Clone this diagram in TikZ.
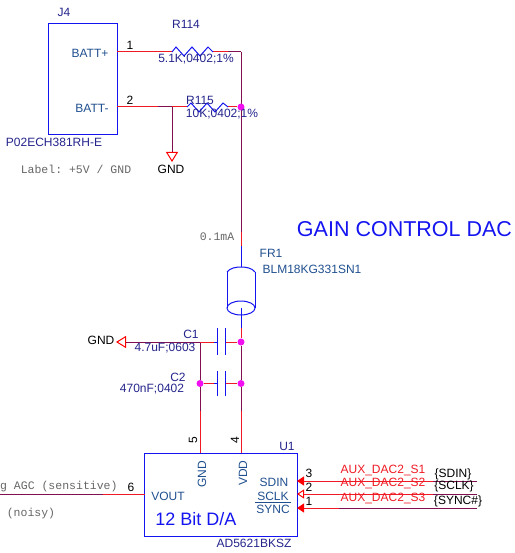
\documentclass[tikz,border=0pt]{standalone}
\usepackage{fontspec}
\setmainfont{Liberation Sans}
\setmonofont{Liberation Mono}
\usepackage{xcolor}
\usetikzlibrary{arrows.meta}
\definecolor{wirered}{HTML}{F01A24}
\definecolor{netmaroon}{HTML}{80104F}
\definecolor{partblue}{HTML}{1414F0}
\definecolor{refnavy}{HTML}{24248C}
\definecolor{pinblue}{HTML}{1F4F8F}
\definecolor{junction}{HTML}{F010F0}
\tikzset{
    wire/.style={wirered, line width=1pt},
    netwire/.style={netmaroon, line width=1pt},
    partline/.style={partblue, line width=1pt},
    txt/.style={inner sep=0pt, font=\fontsize{12}{12}\selectfont},
    reflabel/.style={txt, text=refnavy},
    pinlabel/.style={txt, text=pinblue},
    pinnum/.style={txt, text=black},
    netlabel/.style={txt, text=wirered},
    note/.style={inner sep=0pt, text=black!60, font=\ttfamily\fontsize{11.5}{11.5}\selectfont},
    dot/.style={circle, fill=junction, inner sep=0pt, minimum size=7pt},
    gndtip/.style={-{Triangle[open, red, length=10pt, width=12pt]}},
    intip/.style={-{Triangle[red, length=7pt, width=9pt]}},
    clktip/.style={-{Triangle[open, red, length=7pt, width=9pt]}}
}

\begin{document}
\begin{tikzpicture}[x=1pt, y=-1pt]
    \useasboundingbox (0, 0) rectangle (514, 553);

    % connector J4
    \node[draw=partblue, line width=1pt, minimum width=69pt, minimum height=111pt, inner sep=0pt] (j4) at (82.5, 79.5) {};
    \node[reflabel] (j4ref) at (64, 12) {J4};
    \node[reflabel] (j4val) at (54, 142) {P02ECH381RH-E};
    \node[pinlabel] (battp) at (90, 53) {BATT+};
    \node[pinlabel] (battn) at (92, 108) {BATT-};
    \node[pinnum] (pin1) at (130, 45) {1};
    \node[pinnum] (pin2) at (130, 100) {2};
    \node[note] (battnote) at (76, 169) {Label: +5V / GND};

    % battery nets
    \coordinate (p1) at (117, 52);
    \coordinate (p2) at (158, 52);
    \coordinate (r114a) at (172, 52);
    \coordinate (r114b) at (213, 52);
    \coordinate (p3) at (228, 52);
    \coordinate (rail0) at (241, 52);
    \coordinate (rail1) at (241, 232);
    \coordinate (n1) at (117, 107);
    \coordinate (n2) at (158, 107);
    \coordinate (gndj) at (172, 107);
    \coordinate (r115a) at (187, 107);
    \coordinate (r115b) at (228, 107);
    \coordinate (gndtop) at (172, 162);
    \draw[netwire] (rail0) -- (rail1);
    \node[dot] (d1) at (241, 107) {};

    \draw[wire] (p1) -- (p2);
    \draw[wire] (p2) -- (r114a);
    \draw[wire] (r114b) -- (p3);
    \draw[netwire] (p3) -- (rail0);
    \draw[wire] (n1) -- (n2);
    \draw[netwire] (n2) -- (gndj);
    \draw[wire] (gndj) -- (r115a);
    \draw[wire] (r115b) -- (d1);
    \draw[netwire, gndtip] (gndj) -- (gndtop);

    % R114, R115
    \draw[partline] (r114a) -- (176, 47) -- (184, 56) -- (192, 47) -- (200, 56) -- (208, 47) -- (r114b);
    \draw[partline] (r115a) -- (191, 103) -- (199, 112) -- (207, 103) -- (215, 112) -- (223, 103) -- (r115b);
    \node[reflabel] (r114ref) at (186, 24) {R114};
    \node[reflabel] (r114val) at (196, 59) {5.1K;0402;1\%};
    \node[reflabel] (r115ref) at (200, 100) {R115};
    \node[reflabel] (r115val) at (222, 114) {10K;0402;1\%};
    \node[pinnum] (gndtxt1) at (171, 169) {GND};

    % rail into FR1
    \coordinate (fr1top) at (241, 246);
    \coordinate (fr1in) at (241, 267);
    \coordinate (fr1mid) at (241, 308);
    \coordinate (fr1out) at (241, 328);
    \draw[wire] (rail1) -- (fr1top);
    \draw[partline] (fr1top) -- (fr1in);
    \draw[partline] (227, 272) .. controls (230, 268) and (236, 267) .. (fr1in) .. controls (246, 267) and (252, 268) .. (255, 272);
    \draw[partline] (227, 272) -- (227, 308);
    \draw[partline] (255, 272) -- (255, 308);
    \draw[partline] (fr1mid) ellipse [x radius=14, y radius=7];
    \draw[partline] (fr1mid) -- (fr1out);
    \node[note] (ilabel) at (217, 237) {0.1mA};
    \node[reflabel, text=pinblue] (fr1ref) at (271, 253) {FR1};
    \node[reflabel, text=pinblue] (fr1val) at (312, 269) {BLM18KG331SN1};
    \node[txt, text=partblue, font=\fontsize{21.5}{21.5}\selectfont] (title) at (404.5, 229) {GAIN CONTROL DAC};

    % decoupling
    \node[dot] (d2) at (241, 342) {};
    \node[dot] (d3) at (241, 383.5) {};
    \node[dot] (d4) at (200, 383.5) {};
    \coordinate (gndj2) at (200, 342);
    \coordinate (gndleft) at (116, 342);
    \coordinate (c1a) at (214, 342);
    \coordinate (c1l) at (217.5, 342);
    \coordinate (c1r) at (225.5, 342);
    \coordinate (c2a) at (214, 383.5);
    \coordinate (c2l) at (217.5, 383.5);
    \coordinate (c2r) at (225.5, 383.5);
    \coordinate (railb) at (241, 411);
    \coordinate (gndb) at (200, 411);
    \coordinate (pin4) at (241, 453);
    \coordinate (pin5) at (200, 453);

    \draw[wire] (fr1out) -- (d2);
    \draw[netwire] (d2) -- (d3);
    \draw[netwire] (d3) -- (railb);
    \draw[wire] (railb) -- (pin4);
    \draw[netwire, gndtip] (gndj2) -- (gndleft);
    \draw[netwire] (gndj2) -- (d4);
    \draw[netwire] (d4) -- (gndb);
    \draw[wire] (gndb) -- (pin5);
    \draw[wire] (gndj2) -- (c1a);
    \draw[partline] (c1a) -- (c1l);
    \draw[wire] (c1r) -- (d2);
    \draw[wire] (d4) -- (c2a);
    \draw[partline] (c2a) -- (c2l);
    \draw[wire] (c2r) -- (d3);

    % C1, C2
    \draw[partline] (217.5, 328) -- (217.5, 355);
    \draw[partline] (225.5, 328) -- (225.5, 355);
    \draw[partline] (217.5, 371) -- (217.5, 396);
    \draw[partline] (225.5, 371) -- (225.5, 396);
    \node[reflabel] (c1ref) at (191, 334) {C1};
    \node[reflabel] (c1val) at (165, 348) {4.7uF;0603};
    \node[reflabel] (c2ref) at (178, 377) {C2};
    \node[reflabel] (c2val) at (152, 389) {470nF;0402};
    \node[pinnum] (gndtxt2) at (101, 340) {GND};

    % DAC U1
    \node[draw=partblue, line width=1pt, minimum width=152.5pt, minimum height=83pt, inner sep=0pt] (u1) at (220.75, 494.5) {};
    \node[reflabel] (u1ref) at (287, 446) {U1};
    \node[reflabel] (u1val) at (254, 543) {AD5621BKSZ};
    \node[pinnum, rotate=90] (pin5num) at (193, 440) {5};
    \node[pinnum, rotate=90] (pin4num) at (235, 440) {4};
    \node[pinlabel, rotate=90] (gndpin) at (202, 474) {GND};
    \node[pinlabel, rotate=90] (vddpin) at (243, 473) {VDD};
    \node[pinlabel] (voutpin) at (168, 496) {VOUT};
    \node[txt, text=partblue, font=\fontsize{18}{18}\selectfont] (u1name) at (196, 519) {12 Bit D/A};
    \node[pinlabel] (sdinpin) at (274, 482) {SDIN};
    \node[pinlabel] (sclkpin) at (273, 496) {SCLK};
    \node[pinlabel] (syncpin) at (273, 509) {SYNC};
    \coordinate (bar0) at (255, 502);
    \coordinate (bar1) at (291, 502);
    \draw[pinblue, line width=0.8pt] (bar0) -- (bar1);

    % output net
    \coordinate (out0) at (0, 494);
    \coordinate (out1) at (103, 494);
    \coordinate (out2) at (144.5, 494);
    \draw[netwire] (out0) -- (out1);
    \draw[wire] (out1) -- (out2);
    \node[pinnum] (pin6) at (131, 487) {6};
    \node[note, anchor=west] (agcnote) at (0, 487) {g AGC (sensitive)};
    \node[note] (noisy) at (31, 514) {(noisy)};

    % serial inputs
    \coordinate (s1a) at (477, 481);
    \coordinate (s1b) at (433, 481);
    \coordinate (s1c) at (297, 481);
    \coordinate (s2a) at (477, 494);
    \coordinate (s2b) at (433, 494);
    \coordinate (s2c) at (297, 494);
    \coordinate (s3a) at (477, 508);
    \coordinate (s3b) at (339, 508);
    \coordinate (s3c) at (297, 508);
    \draw[netwire] (s1a) -- (s1b);
    \draw[wire, intip] (s1b) -- (s1c);
    \draw[netwire] (s2a) -- (s2b);
    \draw[wire, clktip] (s2b) -- (s2c);
    \draw[netwire] (s3a) -- (s3b);
    \draw[wire, intip] (s3b) -- (s3c);
    \node[pinnum] (pin3) at (309, 473) {3};
    \node[pinnum] (pin2b) at (309, 487) {2};
    \node[pinnum] (pin1b) at (309, 501) {1};
    \node[netlabel] (s1net) at (383, 470) {AUX\_DAC2\_S1};
    \node[netlabel] (s2net) at (383, 483) {AUX\_DAC2\_S2};
    \node[netlabel] (s3net) at (383, 498) {AUX\_DAC2\_S3};
    \node[pinnum] (s1sig) at (453, 474) {\{SDIN\}};
    \node[pinnum] (s2sig) at (454, 486) {\{SCLK\}};
    \node[pinnum] (s3sig) at (458, 501) {\{SYNC\#\}};
\end{tikzpicture}
\end{document}
